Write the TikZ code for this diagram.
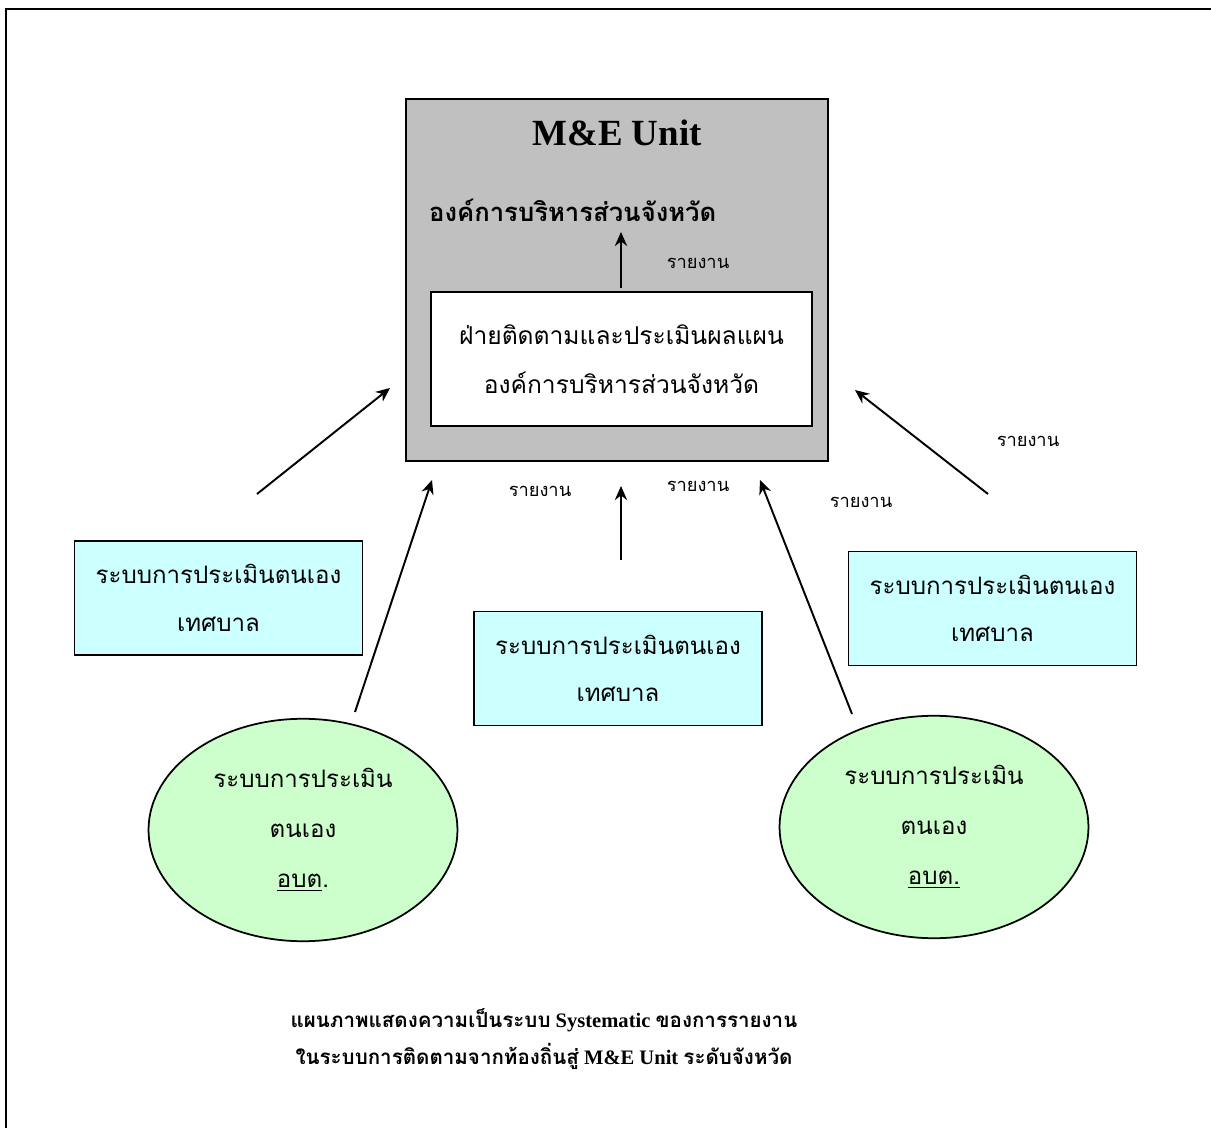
\documentclass[tikz,border=0pt]{standalone}
\usepackage{fontspec}
\setmainfont{Liberation Serif}
\newfontfamily\thaifont[Script=Thai]{Loma}
\usetikzlibrary{arrows.meta,shapes.geometric}
\definecolor{unitgray}{RGB}{192,192,192}
\definecolor{evalcyan}{RGB}{204,255,255}
\definecolor{evalgreen}{RGB}{204,255,204}

\begin{document}
\begin{tikzpicture}[x=0.02cm, y=-0.02cm,
    evalbox/.style={draw, line width=1pt, fill=evalcyan, minimum width=5.76cm, minimum height=2.28cm,
        align=center, font=\thaifont\fontsize{13.7}{27}\selectfont},
    evaloval/.style={draw, ellipse, line width=1pt, fill=evalgreen, minimum width=6.18cm, minimum height=4.45cm,
        align=center, font=\thaifont\fontsize{13.7}{28.5}\selectfont},
    report/.style={font=\thaifont\fontsize{10.4}{13}\selectfont},
    up/.style={-{Stealth[length=8pt, width=7pt]}, line width=1.1pt}]
    \useasboundingbox (0,0) rectangle (1211,1128);
    \draw[line width=1.5pt] (6,1128) -- (6,9) -- (1211,9);

    % M&E unit
    \node[draw, line width=1pt, fill=unitgray, minimum width=8.44cm, minimum height=7.24cm]
        (unit) at (617,280) {};
    \node[font=\bfseries\fontsize{21}{25}\selectfont] (title) at (617,133) {M\&E Unit};
    \node[font=\thaifont\bfseries\fontsize{14.6}{17}\selectfont, anchor=west] (pao) at (423,210) {องค์การบริหารส่วนจังหวัด};
    \node[draw, line width=1pt, fill=white, minimum width=7.62cm, minimum height=2.68cm, align=center,
        font=\thaifont\fontsize{14}{28}\selectfont]
        (me) at (621.5,359) {ฝ่ายติดตามและประเมินผลแผน \\ องค์การบริหารส่วนจังหวัด};

    % local systems
    \node[evalbox] (tbl) at (218.5,598) {ระบบการประเมินตนเอง \\ เทศบาล};
    \node[evalbox] (tbm) at (618,668.5) {ระบบการประเมินตนเอง \\ เทศบาล};
    \node[evalbox] (tbr) at (992.5,608.5) {ระบบการประเมินตนเอง \\ เทศบาล};
    \node[evaloval] (obl) at (303,830) {ระบบการประเมิน \\ ตนเอง \\ \underline{อบต}.};
    \node[evaloval] (obr) at (934,827) {ระบบการประเมิน \\ ตนเอง \\ \underline{อบต.}};

    % arrow ends
    \coordinate (meup) at (621,288);
    \coordinate (paoin) at (621,232);
    \coordinate (tblout) at (257,494);
    \coordinate (tblin) at (390,388);
    \coordinate (oblout) at (355,712);
    \coordinate (oblin) at (432,480);
    \coordinate (tbmout) at (621,560);
    \coordinate (tbmin) at (621,486);
    \coordinate (obrout) at (852,714);
    \coordinate (obrin) at (760,480);
    \coordinate (tbrout) at (988,494);
    \coordinate (tbrin) at (855,390);

    \draw[up] (meup) -- (paoin);
    \draw[up] (tblout) -- (tblin);
    \draw[up] (oblout) -- (oblin);
    \draw[up] (tbmout) -- (tbmin);
    \draw[up] (obrout) -- (obrin);
    \draw[up] (tbrout) -- (tbrin);

    \node[report] (r1) at (698,263) {รายงาน};
    \node[report] (r2) at (540,491) {รายงาน};
    \node[report] (r3) at (698,486) {รายงาน};
    \node[report] (r4) at (861,502) {รายงาน};
    \node[report] (r5) at (1028,441) {รายงาน};

    % caption
    \node[align=center, font=\bfseries\fontsize{11.7}{21.6}\selectfont] (caption) at (544,1039)
        {{\thaifont แผนภาพแสดงความเป็นระบบ} Systematic {\thaifont ของการรายงาน} \\
         {\thaifont ในระบบการติดตามจากท้องถิ่นสู่} M\&E Unit {\thaifont ระดับจังหวัด}};
\end{tikzpicture}
\end{document}
